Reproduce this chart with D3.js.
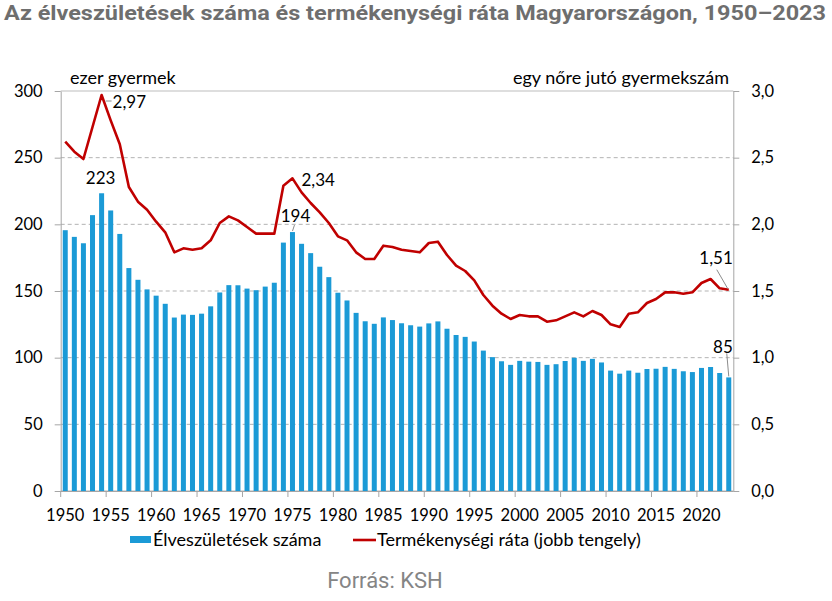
<!DOCTYPE html>
<html>
<head>
<meta charset="utf-8">
<script src="https://cdn.jsdelivr.net/npm/d3@7"></script>
<style>
  html, body { margin: 0; padding: 0; background: #fff; }
  svg { display: block; }
</style>
</head>
<body>
<svg id="chart" width="832" height="601"></svg>
<script>
const years = d3.range(1950, 2024);
const births = [195.6,190.6,185.8,206.9,223.3,210.4,192.8,167.2,158.4,151.2,
  146.5,140.4,130.1,132.3,132.1,133.0,138.5,148.9,154.4,154.3,
  151.8,150.6,153.3,156.2,186.3,194.2,185.4,178.4,168.2,160.4,
  148.7,142.9,133.6,127.3,125.4,130.2,128.2,125.8,124.3,123.3,
  125.7,127.2,121.7,117.0,115.6,112.1,105.3,100.4,97.3,94.6,
  97.6,97.0,96.8,94.6,95.1,97.5,99.9,97.6,99.1,96.4,
  90.3,88.0,90.3,88.7,91.5,91.7,93.1,91.6,89.8,89.2,
  92.3,93.0,88.5,85.2];
const tfr = [2.62,2.545,2.49,2.73,2.97,2.78,2.60,2.28,2.17,2.11,
  2.02,1.94,1.79,1.82,1.81,1.82,1.88,2.01,2.06,2.03,
  1.98,1.93,1.93,1.93,2.29,2.345,2.24,2.16,2.09,2.01,
  1.91,1.88,1.79,1.74,1.74,1.84,1.83,1.81,1.80,1.79,
  1.86,1.87,1.77,1.69,1.65,1.58,1.47,1.39,1.33,1.29,
  1.32,1.31,1.31,1.27,1.28,1.31,1.34,1.31,1.35,1.32,
  1.25,1.23,1.33,1.34,1.41,1.44,1.49,1.49,1.48,1.49,
  1.56,1.59,1.52,1.51];
const leftTicks = [0,50,100,150,200,250,300];
const rightTicks = [0,0.5,1.0,1.5,2.0,2.5,3.0];
const xTickYears = years.filter(y => y % 5 === 0);
const annotations = [
  {year:1954, series:"births", text:"223"},
  {year:1975, series:"births", text:"194"},
  {year:2023, series:"births", text:"85"},
  {year:1954, series:"tfr", text:"2,97"},
  {year:1975, series:"tfr", text:"2,34"},
  {year:2023, series:"tfr", text:"1,51"}
];

const FONT = "Lato, 'Open Sans', sans-serif";
const svg = d3.select("#chart");
const L = 60.7, R = 733.3, T = 91, B = 491;

const x = d3.scaleBand().domain(years).range([L, R]).paddingInner(0.45).paddingOuter(0.225);
const yL = d3.scaleLinear().domain([0, 300]).range([B, T]);
const yR = d3.scaleLinear().domain([0, 3]).range([B, T]);
const cx = yr => x(yr) + x.bandwidth() / 2;
const fmt = d3.format(".1f");
const comma = v => fmt(v).replace(".", ",");

// Title
svg.append("text").attr("x", 4).attr("y", 20)
  .attr("font-family", "Roboto, sans-serif").attr("font-weight", 700).attr("font-size", 21)
  .attr("fill", "#6e6e6e").attr("textLength", 822).attr("lengthAdjust", "spacingAndGlyphs")
  .text("Az élveszületések száma és termékenységi ráta Magyarországon, 1950–2023");

// Gridlines
const grid = svg.append("g");
leftTicks.forEach(t => {
  grid.append("line").attr("x1", L).attr("x2", R).attr("y1", yL(t)).attr("y2", yL(t))
    .attr("stroke", t === 300 ? "#bdbdbd" : "#b3b3b3").attr("stroke-width", 1)
    .attr("stroke-dasharray", (t === 300 || t === 0) ? null : "4,3");
});

// Bars
svg.append("g").selectAll("rect").data(years).join("rect")
  .attr("x", d => x(d)).attr("width", x.bandwidth())
  .attr("y", (d, i) => yL(births[i])).attr("height", (d, i) => B - yL(births[i]))
  .attr("fill", "#1b9ad6");

// Line
const line = d3.line().x((d, i) => cx(years[i])).y(d => yR(d));
svg.append("path").datum(tfr).attr("d", line)
  .attr("fill", "none").attr("stroke", "#c00000").attr("stroke-width", 2.6)
  .attr("stroke-linejoin", "round");

// Axes
const axisStyle = g => {
  g.select(".domain").attr("stroke", "#a6a6a6");
  g.selectAll(".tick line").attr("stroke", "#a6a6a6");
  g.selectAll(".tick text").attr("font-family", FONT).attr("font-size", 16.5).attr("fill", "#000");
};
const gx = svg.append("g").attr("transform", `translate(0,${B})`)
  .call(d3.axisBottom(x).tickValues(xTickYears).tickSize(6).tickPadding(12).tickSizeOuter(0));
gx.call(axisStyle);
gx.select(".domain").attr("d", `M${L},0.5H${R}`);
gx.selectAll(".tick line").attr("x1", -x.step() / 2).attr("x2", -x.step() / 2);

const gl = svg.append("g").attr("transform", `translate(${L},0)`)
  .call(d3.axisLeft(yL).tickValues(leftTicks).tickSize(6).tickPadding(12).tickSizeOuter(0));
gl.call(axisStyle);

const gr = svg.append("g").attr("transform", `translate(${R},0)`)
  .call(d3.axisRight(yR).tickValues(rightTicks).tickFormat(comma).tickSize(6).tickPadding(12).tickSizeOuter(0));
gr.call(axisStyle);

// Axis titles
svg.append("text").attr("x", 70).attr("y", 84).attr("font-family", FONT).attr("font-size", 18)
  .text("ezer gyermek");
svg.append("text").attr("x", 729).attr("y", 84).attr("text-anchor", "end").attr("font-family", FONT).attr("font-size", 18)
  .text("egy nőre jutó gyermekszám");

// Annotations
const ann = svg.append("g").attr("font-family", FONT).attr("font-size", 17).attr("fill", "#000");
const lead = (x1, y1, x2, y2) => ann.append("line").attr("x1", x1).attr("y1", y1).attr("x2", x2).attr("y2", y2)
  .attr("stroke", "#8c8c8c").attr("stroke-width", 1);
annotations.forEach(a => {
  const i = years.indexOf(a.year);
  const px = cx(a.year);
  const py = a.series === "births" ? yL(births[i]) : yR(tfr[i]);
  let tx, ty, anchor = "middle";
  if (a.text === "223") { tx = px - 1; ty = py - 9; }
  else if (a.text === "194") { tx = px + 3; ty = py - 10; lead(px, py - 1, px + 2, py - 7); }
  else if (a.text === "85") { tx = px + 4; ty = py - 24; anchor = "end"; lead(px - 2, py - 24, px, py - 1); }
  else if (a.text === "2,97") { tx = px + 11; ty = py + 13; anchor = "start"; lead(px + 4, py + 6, px + 10, py + 6); }
  else if (a.text === "2,34") { tx = px + 9; ty = py + 8; anchor = "start"; }
  else if (a.text === "1,51") { tx = px + 4; ty = py - 26; anchor = "end"; lead(px - 12, py - 20, px - 1, py - 1); }
  ann.append("text").attr("x", tx).attr("y", ty).attr("text-anchor", anchor).text(a.text);
});

// Legend
const lg = svg.append("g").attr("font-family", FONT).attr("font-size", 18);
lg.append("rect").attr("x", 130).attr("y", 536).attr("width", 21).attr("height", 7).attr("fill", "#1b9ad6");
lg.append("text").attr("x", 153).attr("y", 546).text("Élveszületések száma");
lg.append("line").attr("x1", 353).attr("x2", 376).attr("y1", 540).attr("y2", 540)
  .attr("stroke", "#c00000").attr("stroke-width", 2.6);
lg.append("text").attr("x", 377).attr("y", 546).text("Termékenységi ráta (jobb tengely)");

// Source
svg.append("text").attr("x", 385).attr("y", 588).attr("text-anchor", "middle")
  .attr("font-family", "Roboto, sans-serif").attr("font-size", 22).attr("fill", "#858585")
  .text("Forrás: KSH");
</script>
</body>
</html>
